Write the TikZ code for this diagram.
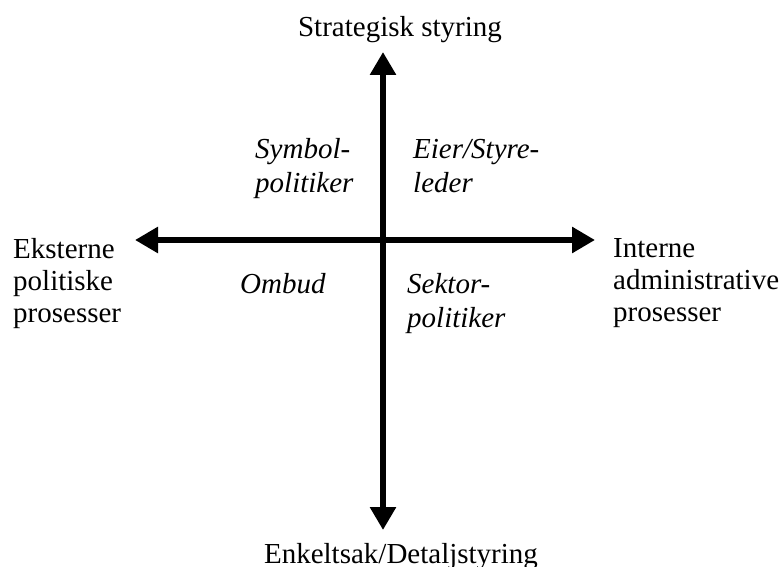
\documentclass[tikz,border=0pt]{standalone}
\usepackage{fontspec}
\setmainfont{Liberation Serif}
\usetikzlibrary{arrows.meta}
\begin{document}
\begin{tikzpicture}[x=1pt,y=-1pt,
  axis/.style={line width=6pt, {Triangle[length=23pt,width=25pt]}-{Triangle[length=23pt,width=25pt]}},
  lbl/.style={font=\fontsize{29}{32}\selectfont, inner sep=0pt, align=left, anchor=base west},
  ilbl/.style={lbl, font=\fontsize{29}{34}\selectfont\itshape},
  ctr/.style={font=\fontsize{29}{32}\selectfont, inner sep=0pt, anchor=base}]
\useasboundingbox (0,0) rectangle (779,567);
\coordinate (top) at (383,52);
\coordinate (bot) at (383,530);
\coordinate (lft) at (135,240);
\coordinate (rgt) at (595,240);
\draw[axis] (top) -- (bot);
\draw[axis] (lft) -- (rgt);
\node[ctr] (strat) at (400,37) {Strategisk styring};
\node[ctr] (enkel) at (401,563) {Enkeltsak/Detaljstyring};
\node[lbl] (ekst) at (13,322) {Eksterne\\politiske\\prosesser};
\node[lbl] (intern) at (613,321) {Interne\\administrative\\prosesser};
\node[ilbl] (symb) at (255,192) {Symbol-\\politiker};
\node[ilbl] (eier) at (413,192) {Eier/Styre-\\leder};
\node[ilbl] (omb) at (240,293) {Ombud};
\node[ilbl] (sekt) at (407,327) {Sektor-\\politiker};
\end{tikzpicture}
\end{document}
